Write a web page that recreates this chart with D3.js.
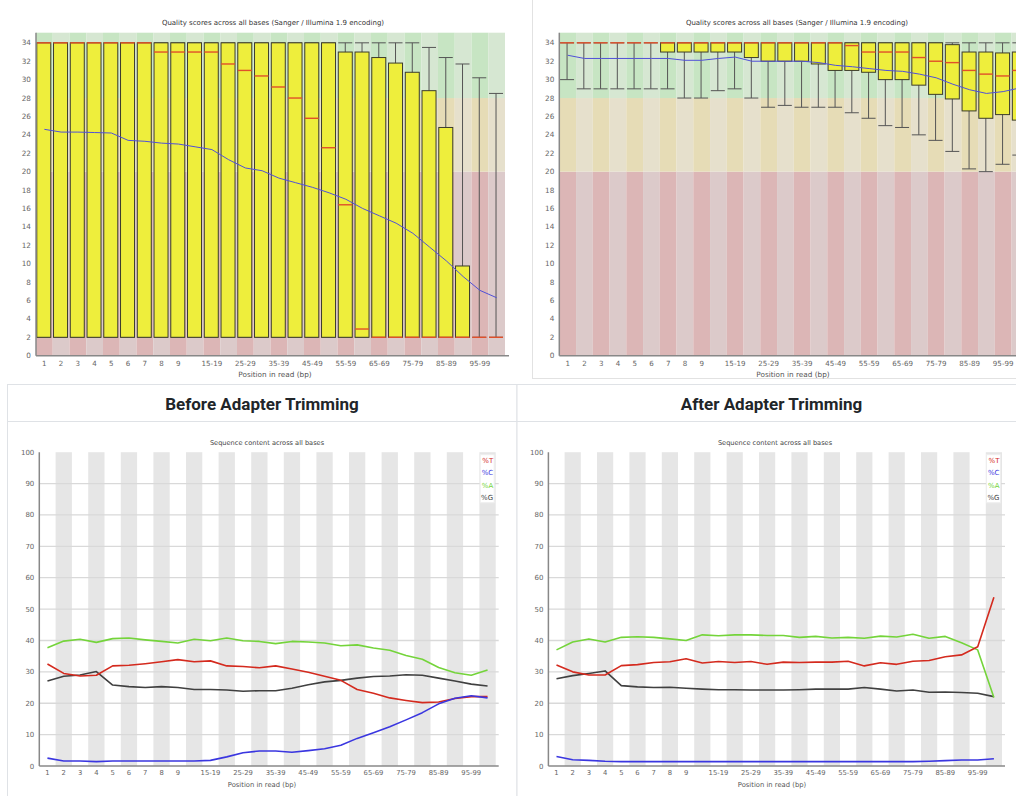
<!DOCTYPE html>
<html>
<head>
<meta charset="utf-8">
<script src="https://cdn.jsdelivr.net/npm/d3@7"></script>
<style>
  body { margin: 0; background: #fff; }
  svg { display: block; }
</style>
</head>
<body>
<svg id="page" width="1016" height="796"></svg>
<script>
// ---- shared categories ----
const positions = ["1","2","3","4","5","6","7","8","9","10-14","15-19","20-24","25-29","30-34",
  "35-39","40-44","45-49","50-54","55-59","60-64","65-69","70-74","75-79","80-84","85-89",
  "90-94","95-99","100-101"];
const shownPositions = ["1","2","3","4","5","6","7","8","9","15-19","25-29","35-39","45-49",
  "55-59","65-69","75-79","85-89","95-99"];
const qualityTicks = [0,2,4,6,8,10,12,14,16,18,20,22,24,26,28,30,32,34];
const contentTicks = [0,10,20,30,40,50,60,70,80,90,100];
const qualityBands = [
  { name: "poor", from: 0, to: 20 },
  { name: "warn", from: 20, to: 28 },
  { name: "good", from: 28, to: 35.1 }
];
const contentLegend = ["%T", "%C", "%A", "%G"];

// ---- per-base quality, untrimmed reads ----
const beforeMean = [24.6,24.3,24.3,24.25,24.2,23.4,23.3,23.1,23.0,22.7,22.4,21.3,20.4,20.1,
  19.3,18.8,18.3,17.7,17.0,16.0,15.2,14.4,13.3,11.8,10.3,8.6,7.1,6.3];
const beforeMedian = [34,34,34,34,34,34,34,33,33,33,33,31.7,31.0,30.4,29.2,28.0,25.8,22.6,
  16.4,2.9,2,2,2,2,2,2,2,2];
const beforeQ1 = [2,2,2,2,2,2,2,2,2,2,2,2,2,2,2,2,2,2,2,2,2,2,2,2,2,2,2,2];
const beforeQ3 = [34,34,34,34,34,34,34,34,34,34,34,34,34,34,34,34,34,34,33.0,33.0,32.4,31.8,
  30.8,28.8,24.8,9.75,2,2];
const beforeP10 = [2,2,2,2,2,2,2,2,2,2,2,2,2,2,2,2,2,2,2,2,2,2,2,2,2,2,2,2];
const beforeP90 = [34,34,34,34,34,34,34,34,34,34,34,34,34,34,34,34,34,34,34,34,34,34,34,
  33.5,32.4,31.7,30.2,28.5];

// ---- per-base quality, trimmed reads ----
const afterMean = [32.65,32.3,32.3,32.3,32.3,32.3,32.3,32.1,32.1,32.3,32.45,32.0,32.0,32.0,
  32.0,31.85,31.55,31.4,31.2,31.0,30.9,30.6,30.2,29.5,28.9,28.5,28.7,29.1];
const afterMedian = [34,34,34,34,34,34,34,34,34,34,34,34,34,34,34,34,34,33.7,33.0,33.0,33.0,
  32.4,32.0,31.85,31.0,30.6,30.4,31.0];
const afterQ1 = [34,34,34,34,34,34,33,33,33,33,33,32.4,32.0,32.0,32.0,31.7,31.0,31.0,30.8,
  30.0,30.0,29.4,28.4,27.9,26.6,25.8,26.2,25.6];
const afterQ3 = [34,34,34,34,34,34,34,34,34,34,34,34,34,34,34,34,34,34,34,34,34,34,34,33.8,
  33.0,33.0,32.9,33.0];
const afterP10 = [30,29,29,29,29,29,29,28,28,28.8,29,28,27,27.2,27,27,27,26.4,25.8,25,24.8,
  24,23.4,22.2,20.3,20.0,20.8,21.8];
const afterP90 = [34,34,34,34,34,34,34,34,34,34,34,34,34,34,34,34,34,34,34,34,34,34,34,34,
  34,34,34,34];

// ---- per-base sequence content (%), untrimmed reads ----
const beforeT = [32.5,29.5,28.7,28.9,31.9,32.1,32.6,33.2,33.9,33.2,33.5,31.9,31.7,31.3,31.9,
  30.9,29.9,28.6,27.3,24.4,23.2,21.7,20.9,20.2,20.4,21.5,22.1,22.1];
const beforeC = [2.5,1.6,1.6,1.4,1.6,1.6,1.6,1.6,1.6,1.6,1.8,2.9,4.2,4.8,4.8,4.4,4.9,5.5,
  6.6,8.8,10.6,12.5,14.7,17.0,19.8,21.6,22.4,21.7];
const beforeA = [37.7,39.8,40.4,39.4,40.6,40.8,40.2,39.7,39.2,40.4,39.9,40.8,39.9,39.7,39.0,
  39.7,39.5,39.2,38.3,38.6,37.6,36.9,35.2,34.0,31.4,29.7,28.9,30.6];
const beforeG = [27.1,28.6,29.0,30.1,25.8,25.3,25.0,25.3,25.0,24.4,24.4,24.2,23.8,24.0,24.0,
  24.8,25.9,26.8,27.3,28.0,28.5,28.7,29.1,28.9,28.0,27.1,26.1,25.5];

// ---- per-base sequence content (%), trimmed reads ----
const afterT = [32.2,30.0,29.0,29.0,32.0,32.3,33.0,33.2,34.2,32.8,33.3,33.0,33.3,32.4,33.1,
  33.0,33.1,33.1,33.4,31.9,32.9,32.4,33.4,33.6,34.8,35.4,38.0,53.8];
const afterC = [3.0,2.0,1.8,1.5,1.4,1.4,1.4,1.4,1.4,1.4,1.4,1.4,1.4,1.4,1.4,1.4,1.4,1.4,1.4,
  1.4,1.4,1.4,1.4,1.5,1.7,1.9,1.9,2.3];
const afterA = [37.0,39.5,40.5,39.5,41.0,41.2,41.0,40.5,40.0,41.8,41.5,41.8,41.8,41.6,41.6,
  41.0,41.3,40.8,41.0,40.7,41.4,41.1,42.0,40.7,41.3,39.3,37.0,21.8];
const afterG = [27.8,28.8,29.5,30.3,25.6,25.2,25.0,25.1,24.8,24.5,24.3,24.3,24.2,24.2,24.2,
  24.3,24.5,24.5,24.5,25.0,24.5,23.9,24.2,23.5,23.6,23.4,23.2,22.1];

// ---- drawing ----
const svg = d3.select("#page");
const chartFont = "'DejaVu Sans', sans-serif";

const bandFill = {
  good: ["#c7e5c3", "#d6e7d2"],
  warn: ["#e6dcb6", "#e6e0cc"],
  poor: ["#dcb6b6", "#dccaca"]
};

function drawQuality(cfg, stats) {
  const g = svg.append("g");
  const x = d3.scaleBand().domain(positions)
    .range([cfg.left, cfg.left + positions.length * cfg.colW]).padding(0);
  const y = d3.scaleLinear().domain([0, 35.1]).range([cfg.bottom, cfg.top]);

  // background zones, alternating per column
  positions.forEach((p, i) => {
    qualityBands.forEach(b => {
      g.append("rect")
        .attr("x", x(p)).attr("width", x.bandwidth())
        .attr("y", y(b.to)).attr("height", y(b.from) - y(b.to))
        .attr("fill", bandFill[b.name][i % 2]);
    });
  });

  // title
  g.append("text").attr("x", cfg.titleX).attr("y", cfg.top - 8)
    .attr("text-anchor", "middle").attr("font-family", chartFont)
    .attr("font-size", 7).attr("fill", "#333").text(cfg.title);

  const bw = 14;
  const cx = p => x(p) + x.bandwidth() / 2 - 0.6;

  // whiskers (10th – 90th percentile)
  positions.forEach((p, i) => {
    const lo = stats.p10[i], hi = stats.p90[i];
    if (hi - lo > 0.01) {
      g.append("line").attr("x1", cx(p)).attr("x2", cx(p))
        .attr("y1", y(hi)).attr("y2", y(lo))
        .attr("stroke", "#555").attr("stroke-width", 1);
      [lo, hi].forEach(v => g.append("line")
        .attr("x1", cx(p) - bw / 2).attr("x2", cx(p) + bw / 2)
        .attr("y1", y(v)).attr("y2", y(v))
        .attr("stroke", "#555").attr("stroke-width", 1));
    }
  });

  // boxes (inter-quartile range)
  positions.forEach((p, i) => {
    const q1 = stats.q1[i], q3 = stats.q3[i];
    if (q3 - q1 > 0.01) {
      g.append("rect").attr("x", cx(p) - bw / 2).attr("width", bw)
        .attr("y", y(q3)).attr("height", y(q1) - y(q3))
        .attr("fill", "#eeee3c").attr("stroke", "#3c3c2c").attr("stroke-width", 1);
    }
  });

  // medians
  positions.forEach((p, i) => {
    g.append("line").attr("x1", cx(p) - bw / 2).attr("x2", cx(p) + bw / 2)
      .attr("y1", y(stats.median[i])).attr("y2", y(stats.median[i]))
      .attr("stroke", "#e0502a").attr("stroke-width", 1.4);
  });

  // mean line
  g.append("path").datum(stats.mean)
    .attr("d", d3.line().x((d, i) => x(positions[i]) + x.bandwidth() / 2).y(d => y(d)))
    .attr("fill", "none").attr("stroke", "#5050d8").attr("stroke-width", 1);

  // axes
  const axisRight = x.range()[1] + 4;
  g.append("line").attr("x1", cfg.left).attr("x2", cfg.left)
    .attr("y1", cfg.top).attr("y2", cfg.bottom)
    .attr("stroke", "#888").attr("stroke-width", 1.5);
  g.append("line").attr("x1", cfg.left).attr("x2", axisRight)
    .attr("y1", cfg.bottom).attr("y2", cfg.bottom)
    .attr("stroke", "#888").attr("stroke-width", 1.5);

  qualityTicks.forEach(t => {
    g.append("text").attr("x", cfg.left - 5).attr("y", y(t) + 2.6)
      .attr("text-anchor", "end").attr("font-family", chartFont)
      .attr("font-size", 7.3).attr("fill", "#666").text(t);
  });
  shownPositions.forEach(p => {
    g.append("text").attr("x", x(p) + x.bandwidth() / 2).attr("y", cfg.bottom + 10)
      .attr("text-anchor", "middle").attr("font-family", chartFont)
      .attr("font-size", 7.1).attr("fill", "#666").text(p);
  });
  g.append("text").attr("x", cfg.xLabelX).attr("y", cfg.bottom + 21)
    .attr("text-anchor", "middle").attr("font-family", chartFont)
    .attr("font-size", 7.3).attr("fill", "#555").text("Position in read (bp)");
}

function drawContent(cfg, series) {
  const g = svg.append("g");
  const x = d3.scaleBand().domain(positions)
    .range([cfg.left, cfg.left + positions.length * cfg.colW]).padding(0);
  const y = d3.scaleLinear().domain([0, 100]).range([cfg.bottom, cfg.top]);
  const right = x.range()[1];

  // alternating column shading
  positions.forEach((p, i) => {
    if (i % 2 === 1) {
      g.append("rect").attr("x", x(p)).attr("width", x.bandwidth())
        .attr("y", cfg.top).attr("height", cfg.bottom - cfg.top)
        .attr("fill", "#e6e6e6");
    }
  });
  // horizontal grid
  contentTicks.filter(t => t > 0 && t < 100).forEach(t => {
    g.append("line").attr("x1", cfg.left).attr("x2", right + 3)
      .attr("y1", y(t)).attr("y2", y(t))
      .attr("stroke", "#d9d9d9").attr("stroke-width", 1.3);
  });

  g.append("text").attr("x", cfg.titleX).attr("y", cfg.top - 7)
    .attr("text-anchor", "middle").attr("font-family", chartFont)
    .attr("font-size", 6.6).attr("fill", "#444").text(cfg.title);

  // axes
  g.append("line").attr("x1", cfg.left).attr("x2", cfg.left)
    .attr("y1", cfg.top).attr("y2", cfg.bottom)
    .attr("stroke", "#888").attr("stroke-width", 1.5);
  g.append("line").attr("x1", cfg.left).attr("x2", right + 3)
    .attr("y1", cfg.bottom).attr("y2", cfg.bottom)
    .attr("stroke", "#888").attr("stroke-width", 1.5);

  contentTicks.forEach(t => {
    g.append("text").attr("x", cfg.left - 5).attr("y", y(t) + 2.5)
      .attr("text-anchor", "end").attr("font-family", chartFont)
      .attr("font-size", 7).attr("fill", "#666").text(t);
  });
  shownPositions.forEach(p => {
    g.append("text").attr("x", x(p) + x.bandwidth() / 2).attr("y", cfg.bottom + 9)
      .attr("text-anchor", "middle").attr("font-family", chartFont)
      .attr("font-size", 6.8).attr("fill", "#666").text(p);
  });
  g.append("text").attr("x", cfg.xLabelX).attr("y", cfg.bottom + 21)
    .attr("text-anchor", "middle").attr("font-family", chartFont)
    .attr("font-size", 6.8).attr("fill", "#555").text("Position in read (bp)");

  const colors = { "%T": "#d42a1e", "%C": "#3a36e0", "%A": "#74d43a", "%G": "#404040" };
  const line = d3.line().x((d, i) => x(positions[i]) + x.bandwidth() / 2).y(d => y(d));
  ["%G", "%A", "%T", "%C"].forEach(k => {
    g.append("path").datum(series[k]).attr("d", line)
      .attr("fill", "none").attr("stroke", colors[k]).attr("stroke-width", 1.6)
      .attr("stroke-linejoin", "round");
  });

  // legend
  g.append("rect").attr("x", right - 15.5).attr("y", cfg.top + 2.5)
    .attr("width", 14).attr("height", 48).attr("fill", "#fff").attr("stroke", "#eee");
  contentLegend.forEach((k, i) => {
    g.append("text").attr("x", right - 2.5).attr("y", cfg.top + 11 + i * 12.2)
      .attr("text-anchor", "end").attr("font-family", chartFont)
      .attr("font-size", 7).attr("fill", colors[k]).text(k);
  });
}

// page frames
svg.append("line").attr("x1", 532.5).attr("x2", 532.5).attr("y1", 0).attr("y2", 379)
  .attr("stroke", "#e2e2e2");
svg.append("line").attr("x1", 532).attr("x2", 1016).attr("y1", 378.5).attr("y2", 378.5)
  .attr("stroke", "#e2e2e2");

[{ x: 7.5, w: 509.5, title: "Before Adapter Trimming" },
 { x: 517, w: 510, title: "After Adapter Trimming" }].forEach(c => {
  svg.append("rect").attr("x", c.x).attr("y", 384.5).attr("width", c.w).attr("height", 430)
    .attr("fill", "#fff").attr("stroke", "#dfe2e6");
  svg.append("line").attr("x1", c.x).attr("x2", c.x + c.w).attr("y1", 421.5).attr("y2", 421.5)
    .attr("stroke", "#dfe2e6");
  svg.append("text").attr("x", c.x + 254.5).attr("y", 410)
    .attr("text-anchor", "middle").attr("font-family", "Roboto, 'Liberation Sans', sans-serif")
    .attr("font-weight", 700).attr("font-size", 17).attr("fill", "#212529").text(c.title);
});

drawQuality({ left: 36, colW: 16.75, top: 32.7, bottom: 355.7, titleX: 273, xLabelX: 275,
  title: "Quality scores across all bases (Sanger / Illumina 1.9 encoding)" },
  { mean: beforeMean, median: beforeMedian, q1: beforeQ1, q3: beforeQ3, p10: beforeP10, p90: beforeP90 });

drawQuality({ left: 559.3, colW: 16.75, top: 32.7, bottom: 355.7, titleX: 797, xLabelX: 793,
  title: "Quality scores across all bases (Sanger / Illumina 1.9 encoding)" },
  { mean: afterMean, median: afterMedian, q1: afterQ1, q3: afterQ3, p10: afterP10, p90: afterP90 });

drawContent({ left: 39.3, colW: 16.3, top: 452.2, bottom: 766, titleX: 267, xLabelX: 262,
  title: "Sequence content across all bases" },
  { "%T": beforeT, "%C": beforeC, "%A": beforeA, "%G": beforeG });

drawContent({ left: 548.4, colW: 16.2, top: 452.2, bottom: 766, titleX: 775, xLabelX: 772,
  title: "Sequence content across all bases" },
  { "%T": afterT, "%C": afterC, "%A": afterA, "%G": afterG });
</script>
</body>
</html>
